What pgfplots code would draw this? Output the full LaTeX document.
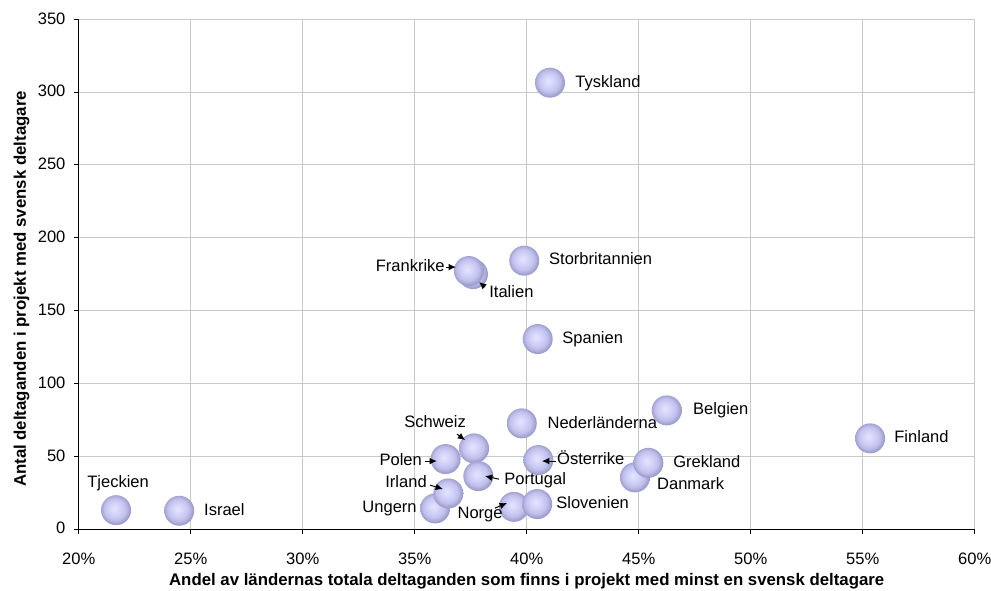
\documentclass[border=0pt]{standalone}
\usepackage{fontspec}
\setmainfont{Liberation Sans}
\usepackage{pgfplots}
\pgfplotsset{compat=1.18}
\usetikzlibrary{arrows.meta}
\definecolor{b0}{RGB}{228,228,255}
\definecolor{b1}{RGB}{212,212,250}
\definecolor{b2}{RGB}{192,192,236}
\definecolor{b3}{RGB}{156,156,204}
\definecolor{gridgray}{RGB}{200,200,200}
\pgfdeclareradialshading{bubsh}{\pgfpoint{-3bp}{3bp}}{color(0bp)=(b0); color(9bp)=(b1); color(18bp)=(b2); color(25bp)=(b3); color(50bp)=(b3)}
\pgfdeclareplotmark{bubble}{\pgfpathcircle{\pgfpointorigin}{\pgfplotmarksize}\pgfshadepath{bubsh}{0}\pgfusepath{}}
\begin{document}
\begin{tikzpicture}[
  lab/.style={font=\fontsize{12.4}{14}\selectfont, inner sep=0pt, text height=0.716em, text depth=0pt},
  arr/.style={-{Latex[length=5.5pt,width=5pt]}, line width=0.75pt}]
\begin{axis}[
  set layers,
  scale only axis, width=672pt, height=382.3pt,
  xmin=20, xmax=60, ymin=0, ymax=350,
  xtick={20,25,...,60}, ytick={0,50,...,350},
  axis x line*=bottom, axis y line*=left,
  axis line style={line width=0.75pt, -},
  grid=major, major grid style={line width=0.75pt, color=gridgray},
  tick align=outside, major tick length=3.75pt,
  tick style={line width=0.75pt, black},
  /pgf/number format/assume math mode=true,
  xticklabel={\pgfmathprintnumber{\tick}\%},
  ticklabel style={font=\fontsize{12.4}{14}\selectfont},
  xticklabel style={anchor=north, inner sep=0pt, text height=0.716em, text depth=0pt, yshift=-15.75pt},
  yticklabel style={anchor=east, inner sep=0pt, text height=0.716em, text depth=0pt, xshift=-6pt},
  xlabel={Andel av ländernas totala deltaganden som finns i projekt med minst en svensk deltagare},
  ylabel={Antal deltaganden i projekt med svensk deltagare},
  xlabel style={at={(axis description cs:0.5,-0.1108)}, anchor=base, font=\bfseries\fontsize{12.6}{14}\selectfont, inner sep=0pt},
  ylabel style={at={(axis description cs:-0.0588,0.471)}, anchor=base, rotate=0, font=\bfseries\fontsize{12.6}{15}\selectfont, inner sep=0pt},
  clip=false,
]
\addplot[only marks, mark=bubble, mark size=11.25pt] coordinates {
  (21.67,13.0)   % Tjeckien
  (24.49,12.6)   % Israel
  (41.04,306.5)  % Tyskland
  (39.89,184.3)  % Storbritannien
  (37.60,175.1)  % Italien
  (37.42,177.2)  % Frankrike
  (40.49,130.5)  % Spanien
  (39.78,72.6)   % Nederländerna
  (46.25,81.5)   % Belgien
  (55.33,62.3)   % Finland
  (44.83,35.5)   % Danmark
  (45.43,45.5)   % Grekland
  (37.65,55.4)   % Schweiz
  (36.38,48.1)   % Polen
  (37.84,36.4)   % Portugal
  (40.52,47.4)   % Österrike
  (35.91,14.2)   % Ungern
  (36.50,24.5)   % Irland
  (39.43,15.3)   % Norge
  (40.47,17.2)   % Slovenien
};
\begin{pgfonlayer}{axis foreground}
\node[lab, anchor=west] at (axis cs:42.16,306.3) {Tyskland};
\node[lab, anchor=west] at (axis cs:40.99,184.8) {Storbritannien};
\node[lab, anchor=east] at (axis cs:36.35,179.9) {Frankrike};
\draw[arr] (axis cs:36.40,179.9) -- (axis cs:36.84,179.9);
\node[lab, anchor=west] at (axis cs:38.32,162.1) {Italien};
\draw[arr] (axis cs:38.14,166.2) -- (axis cs:37.87,169.6);
\node[lab, anchor=west] at (axis cs:41.58,130.5) {Spanien};
\node[lab, anchor=west] at (axis cs:40.92,72.1) {Nederländerna};
\node[lab, anchor=west] at (axis cs:47.42,81.7) {Belgien};
\node[lab, anchor=west] at (axis cs:56.40,62.5) {Finland};
\node[lab, anchor=west] at (axis cs:46.53,45.3) {Grekland};
\node[lab, anchor=west] at (axis cs:45.81,30.2) {Danmark};
\node[lab] at (axis cs:35.91,72.8) {Schweiz};
\draw[arr] (axis cs:36.89,65.2) -- (axis cs:37.25,61.1);
\node[lab, anchor=east] at (axis cs:35.33,46.7) {Polen};
\draw[arr] (axis cs:35.46,46.7) -- (axis cs:35.99,46.7);
\node[lab, anchor=east] at (axis cs:35.55,31.6) {Irland};
\draw[arr] (axis cs:35.68,30.2) -- (axis cs:36.26,27.5);
\node[lab, anchor=east] at (axis cs:35.10,14.4) {Ungern};
\node[lab] at (axis cs:37.92,10.3) {Norge};
\draw[arr] (axis cs:38.58,14.4) -- (axis cs:39.12,17.9);
\node[lab, anchor=west] at (axis cs:38.99,33.7) {Portugal};
\draw[arr] (axis cs:38.76,34.3) -- (axis cs:38.14,36.4);
\node[lab, anchor=west] at (axis cs:41.35,47.4) {Österrike};
\draw[arr] (axis cs:41.31,46.7) -- (axis cs:40.68,46.7);
\node[lab, anchor=west] at (axis cs:41.31,17.2) {Slovenien};
\node[lab] at (axis cs:21.76,31.6) {Tjeckien};
\node[lab, anchor=west] at (axis cs:25.59,12.4) {Israel};
\end{pgfonlayer}
\end{axis}
\pgfresetboundingbox
\path ([xshift=-59pt,yshift=-45.75pt]current axis.south west) rectangle ([xshift=12.2pt,yshift=14.5pt]current axis.north east);
\end{tikzpicture}
\end{document}
